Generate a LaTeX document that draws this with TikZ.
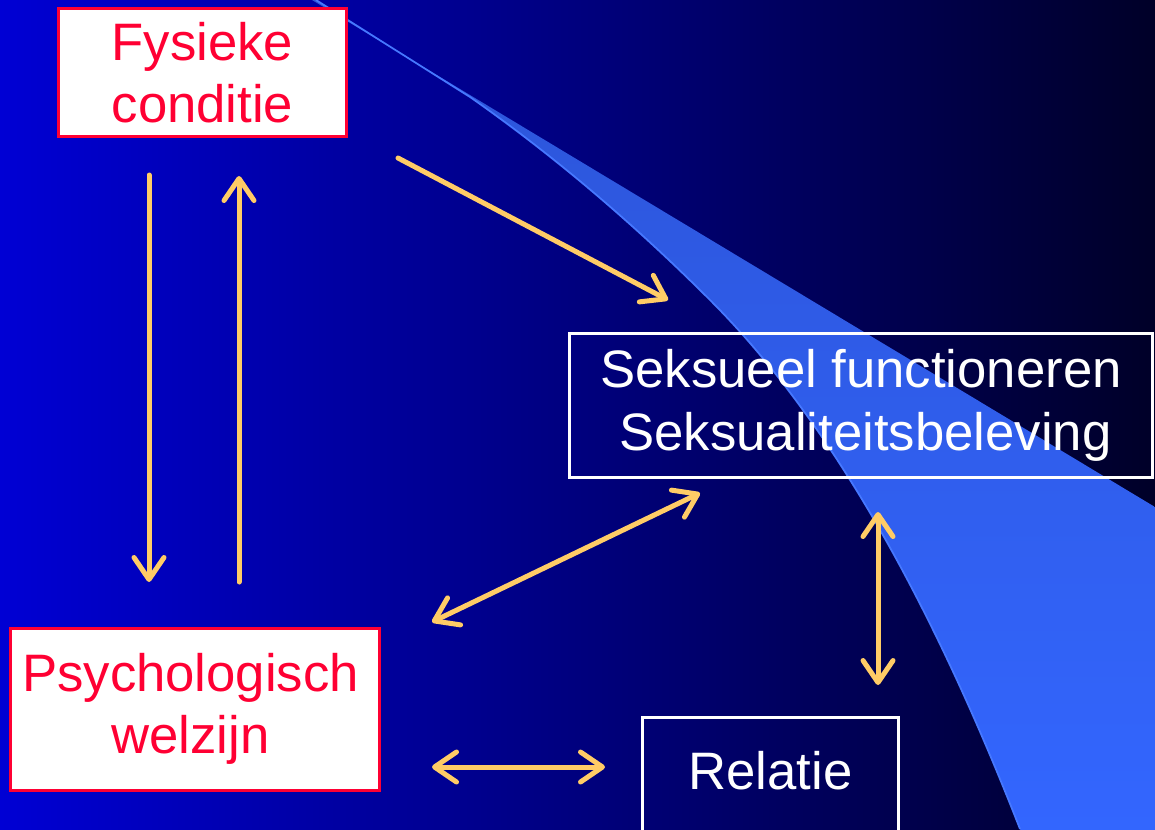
\documentclass[tikz,border=0pt]{standalone}
\usepackage{fontspec}
\setmainfont{Liberation Sans}
\usetikzlibrary{arrows.meta}
\definecolor{bgleft}{RGB}{0,0,212}
\definecolor{bgright}{RGB}{0,0,40}
\definecolor{swoosh}{RGB}{51,102,255}
\definecolor{swooshtop}{RGB}{44,84,215}
\definecolor{swooshedge}{RGB}{70,120,255}
\definecolor{boxred}{RGB}{255,0,51}
\definecolor{arrowgold}{RGB}{255,204,102}
\tikzset{
  redbox/.style={draw=boxred, fill=white, text=boxred, line width=0.06cm, inner sep=0pt, align=center, font=\fontsize{30}{35.5}\selectfont},
  whitebox/.style={draw=white, text=white, line width=0.06cm, inner sep=0pt, font=\fontsize{30}{35.5}\selectfont},
  arr/.style={draw=arrowgold, line width=0.1cm, line cap=round, -{Straight Barb[length=0.44cm,width=0.6cm,round]}},
  darr/.style={draw=arrowgold, line width=0.1cm, line cap=round, {Straight Barb[length=0.44cm,width=0.6cm,round]}-{Straight Barb[length=0.44cm,width=0.6cm,round]}}
}

\begin{document}
\begin{tikzpicture}[x=0.02cm,y=-0.02cm]
\useasboundingbox (0,0) rectangle (1155,829);
\clip (0,0) rectangle (1155,829);
% achtergrond
\shade[left color=bgleft, right color=bgright] (0,0) rectangle (1155,829);
\shade[top color=swooshtop, bottom color=swoosh] (312,0) -- (1155,507) -- (1155,840) -- (1024,840) -- (1020,829)
  .. controls (950,650) and (850,440) .. (710,300)
  .. controls (640,230) and (560,160) .. (470,97) -- (316,0) -- cycle;
\draw[swooshedge, line width=0.035cm] (1020,829)
  .. controls (950,650) and (850,440) .. (710,300)
  .. controls (640,230) and (560,160) .. (470,97) -- (316,0);

% blokken
\node[redbox, minimum width=5.78cm, minimum height=2.58cm] (fys) at (202.5,72.5) {Fysieke\\conditie};
\node[redbox, minimum width=7.4cm, minimum height=3.24cm] (psy) at (195,709) {Psychologisch\,\\welzijn\,};
\node[whitebox, align=center, minimum width=11.68cm, minimum height=2.9cm] (seks) at (861,405.5) {Seksueel functioneren\\ \,Seksualiteitsbeleving};
\node[whitebox, minimum width=5.14cm, text height=1.44cm, text depth=1.4cm, anchor=base] (rel) at (770.5,789) {Relatie};

% eindpunten pijlen
\coordinate (fysOut) at (149,175);
\coordinate (psyIn) at (149,582);
\coordinate (psyOut) at (239,582);
\coordinate (fysIn) at (239,176);
\coordinate (fysDiag) at (398,158);
\coordinate (seksIn) at (668,300);
\coordinate (psyDiag) at (432,622);
\coordinate (seksDiag) at (700,493);
\coordinate (seksDown) at (878,512);
\coordinate (relUp) at (878,685);
\coordinate (psyRight) at (432,767);
\coordinate (relLeft) at (605,767);

\draw[arr] (fysOut) -- (psyIn);
\draw[arr] (psyOut) -- (fysIn);
\draw[arr] (fysDiag) -- (seksIn);
\draw[darr] (psyDiag) -- (seksDiag);
\draw[darr] (seksDown) -- (relUp);
\draw[darr] (psyRight) -- (relLeft);

\end{tikzpicture}
\end{document}
